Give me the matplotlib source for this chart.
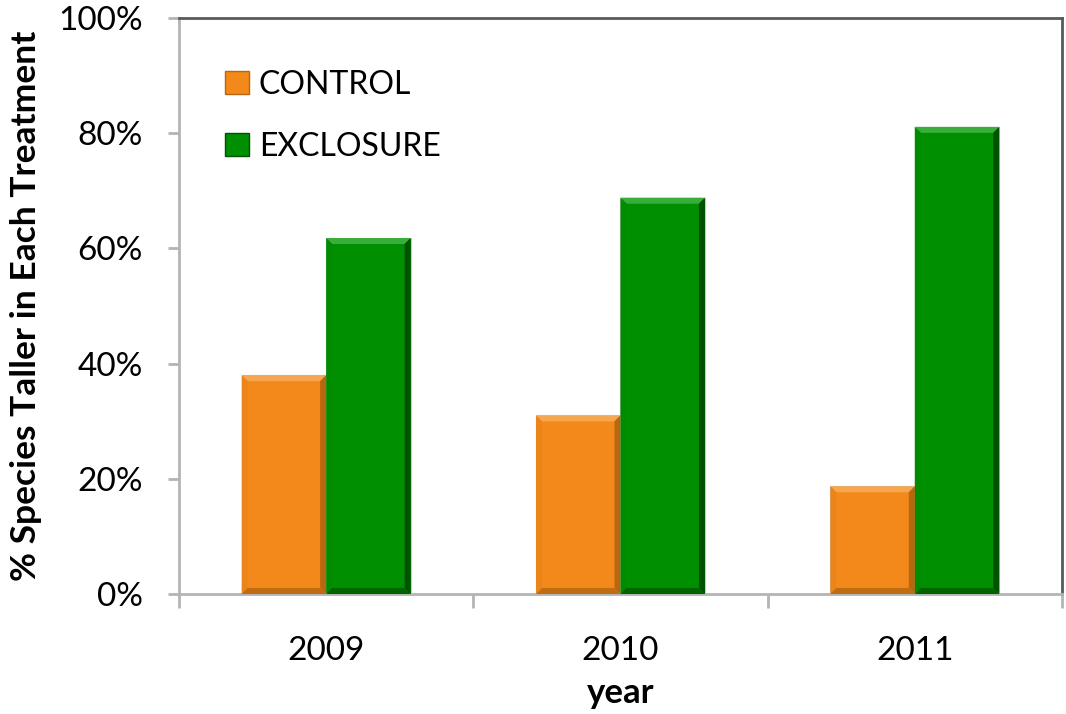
import matplotlib
matplotlib.use('Agg')
import matplotlib.pyplot as plt
from matplotlib.patches import Polygon, Patch
import numpy as np

plt.rcParams['font.family'] = ['Lato', 'DejaVu Sans']

years = ['2009', '2010', '2011']
control = [38.0, 31.0, 18.7]
exclosure = [61.8, 68.8, 81.1]
series_names = ['CONTROL', 'EXCLOSURE']

# main, top bevel, left bevel, right bevel, bottom bevel
orange = ['#F3891A', '#F7A650', '#EC8519', '#B8660F', '#C06C12']
green = ['#008F00', '#3AAE3A', '#008B00', '#005200', '#006400']

fig = plt.figure(figsize=(10.66, 7.14), dpi=100)
ax = fig.add_axes([0.1679, 0.1681, 0.8283, 0.8067])
ax.set_xlim(-0.5, 2.5)
ax.set_ylim(0, 100)

# pixel sizes in data units, used for the bevel edges
px_x = 3.0 / 883
px_y = 100.0 / 576


def bevel_bar(x0, h, w, cols, depth=6):
    bx = depth * px_x
    by = min(depth * px_y, h / 2)
    x1 = x0 + w
    ax.add_patch(Polygon([[x0, 0], [x1, 0], [x1, h], [x0, h]], closed=True,
                         facecolor=cols[0], edgecolor='#c8c8c8', lw=0.8, zorder=3))
    faces = [
        ([[x0, h], [x1, h], [x1 - bx, h - by], [x0 + bx, h - by]], cols[1]),
        ([[x0, 0], [x0 + bx, by], [x0 + bx, h - by], [x0, h]], cols[2]),
        ([[x1, 0], [x1, h], [x1 - bx, h - by], [x1 - bx, by]], cols[3]),
        ([[x0, 0], [x1, 0], [x1 - bx, by], [x0 + bx, by]], cols[4]),
    ]
    for pts, c in faces:
        ax.add_patch(Polygon(pts, closed=True, facecolor=c, edgecolor='none', zorder=4))


w = 0.287
x = np.arange(len(years))
for i in range(len(years)):
    bevel_bar(x[i] - w, control[i], w, orange)
    bevel_bar(x[i], exclosure[i], w, green)

# axes styling
for s in ['left', 'bottom']:
    ax.spines[s].set_color('#b4b4b4')
    ax.spines[s].set_linewidth(2)
for s in ['top', 'right']:
    ax.spines[s].set_color('#5a5a5a')
    ax.spines[s].set_linewidth(2)

ax.set_yticks([0, 20, 40, 60, 80, 100])
ax.set_yticklabels(['0%', '20%', '40%', '60%', '80%', '100%'], fontsize=24)
ax.tick_params(axis='y', length=8, width=2, color='#b4b4b4', pad=18)

ax.set_xticks(x)
ax.set_xticklabels(years, fontsize=24)
ax.set_xticks([-0.5, 0.5, 1.5, 2.5], minor=True)
ax.tick_params(axis='x', which='major', length=0, pad=30)
ax.tick_params(axis='x', which='minor', length=10, width=2, color='#b4b4b4')

ax.set_ylabel('% Species Taller in Each Treatment', fontsize=25.5, fontweight='bold', labelpad=12)
ax.set_xlabel('year', fontsize=25, fontweight='bold', labelpad=8)

handles = [Patch(facecolor=orange[0], edgecolor=orange[3]),
           Patch(facecolor=green[0], edgecolor=green[3])]
ax.legend(handles, series_names, loc='upper left', bbox_to_anchor=(0.02, 0.96),
          frameon=False, fontsize=23, handlelength=0.75, handleheight=0.75,
          handletextpad=0.3, labelspacing=1.0)

fig.savefig('out.png', dpi=100)
